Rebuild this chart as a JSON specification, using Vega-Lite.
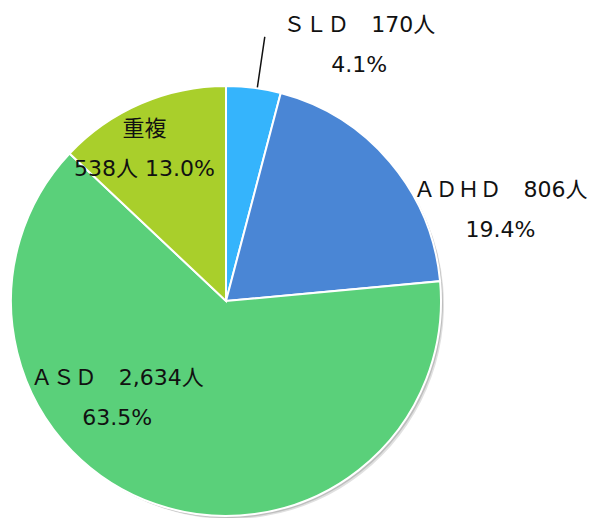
{
  "$schema": "https://vega.github.io/schema/vega-lite/v6.json",
  "autosize": "none",
  "width": 430,
  "height": 430,
  "padding": {"left": 11, "top": 86, "right": 151, "bottom": 2},
  "background": "white",
  "view": {"stroke": null},
  "config": {"text": {"font": "DejaVu Sans, Noto Sans CJK JP", "fontSize": 22, "fill": "#111111", "lineBreak": "\n", "lineHeight": 40, "baseline": "middle", "align": "center"}},
  "data": {"values": [
    {"i": 1, "k": "SLD", "n": 170, "label": "ＳＬＤ　170人\n4.1%"},
    {"i": 2, "k": "ADHD", "n": 806, "label": "ＡＤＨＤ　806人\n19.4%"},
    {"i": 3, "k": "ASD", "n": 2634, "label": "ＡＳＤ　2,634人\n63.5%"},
    {"i": 4, "k": "重複", "n": 538, "label": "重複\n538人 13.0%"}
  ]},
  "layer": [
    {
      "mark": {"type": "arc", "xOffset": 4, "yOffset": 4, "radius": 214, "fill": "#000000", "opacity": 0.12},
      "encoding": {"theta": {"field": "n", "type": "quantitative", "stack": true}, "order": {"field": "i"}}
    },
    {
      "mark": {"type": "arc", "xOffset": 2, "yOffset": 2, "radius": 215, "fill": "#000000", "opacity": 0.15},
      "encoding": {"theta": {"field": "n", "type": "quantitative", "stack": true}, "order": {"field": "i"}}
    },
    {
      "mark": {"type": "arc", "stroke": "white", "strokeWidth": 2},
      "encoding": {
        "theta": {"field": "n", "type": "quantitative", "stack": true},
        "order": {"field": "i"},
        "color": {"field": "k", "type": "nominal", "sort": null, "legend": null,
          "scale": {"domain": ["SLD", "ADHD", "ASD", "重複"], "range": ["#35b4fc", "#4a86d5", "#5ad07a", "#a9cf2b"]}}
      }
    },
    {
      "transform": [
        {"stack": "n", "sort": [{"field": "i"}], "groupby": [], "as": ["s0", "s1"]},
        {"filter": "datum.k === 'SLD'"},
        {"calculate": "(datum.s0 + datum.s1) / 2", "as": "mid"}
      ],
      "mark": {"type": "arc", "radius": 216, "radius2": 267, "thetaOffset": 0.017, "theta2Offset": 0.017, "stroke": "#111111", "strokeWidth": 1.5, "fill": null},
      "encoding": {
        "theta": {"field": "mid", "type": "quantitative"},
        "theta2": {"field": "mid"}
      }
    },
    {
      "mark": {"type": "text", "radius": 150, "dx": 114, "dy": -127},
      "encoding": {"theta": {"field": "n", "type": "quantitative", "stack": true}, "order": {"field": "i"},
        "text": {"condition": {"test": "datum.k === 'SLD'", "field": "label"}, "value": ""}}
    },
    {
      "mark": {"type": "text", "radius": 150, "dx": 160, "dy": -14},
      "encoding": {"theta": {"field": "n", "type": "quantitative", "stack": true}, "order": {"field": "i"},
        "text": {"condition": {"test": "datum.k === 'ADHD'", "field": "label"}, "value": ""}}
    },
    {
      "mark": {"type": "text", "radius": 150, "dx": -60, "dy": -65},
      "encoding": {"theta": {"field": "n", "type": "quantitative", "stack": true}, "order": {"field": "i"},
        "text": {"condition": {"test": "datum.k === 'ASD'", "field": "label"}, "value": ""}}
    },
    {
      "mark": {"type": "text", "radius": 150, "dx": -22, "dy": -34},
      "encoding": {"theta": {"field": "n", "type": "quantitative", "stack": true}, "order": {"field": "i"},
        "text": {"condition": {"test": "datum.k === '重複'", "field": "label"}, "value": ""}}
    }
  ]
}
